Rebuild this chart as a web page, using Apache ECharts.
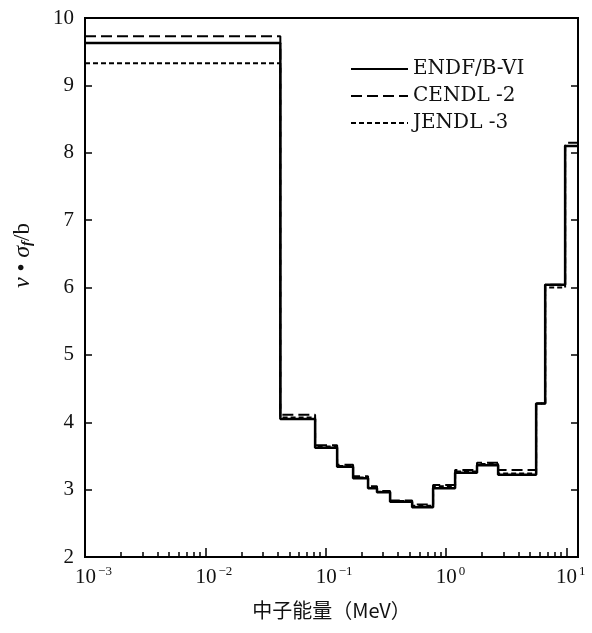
<!DOCTYPE html>
<html>
<head>
<meta charset="utf-8">
<script src="https://cdn.jsdelivr.net/npm/echarts@6/dist/echarts.min.js"></script>
<style>
  html, body { margin: 0; padding: 0; background: #fff; }
  #chart { width: 592px; height: 633px; }
</style>
</head>
<body>
<div id="chart"></div>
<script>
const seriesNames = ['ENDF/B-VI', 'CENDL -2', 'JENDL -3']
// 能群下边界 (MeV)，最后一个为上限
const groupEdges = [0.001, 0.042, 0.0817, 0.1245, 0.169, 0.225, 0.267, 0.343, 0.523, 0.781, 1.19, 1.81, 2.71, 5.61, 6.67, 9.77, 12.5]
const endfValues = [9.63, 4.05, 3.62, 3.34, 3.17, 3.02, 2.96, 2.82, 2.74, 3.02, 3.25, 3.36, 3.22, 4.28, 6.04, 8.1]
const cendlValues = [9.73, 4.11, 3.66, 3.37, 3.2, 3.05, 2.98, 2.84, 2.78, 3.07, 3.29, 3.4, 3.29, 4.28, 6.04, 8.15]
const jendlValues = [9.33, 4.07, 3.64, 3.35, 3.18, 3.03, 2.97, 2.83, 2.76, 3.05, 3.27, 3.38, 3.24, 4.28, 6.0, 8.1]
const minorTicks = [0.002, 0.003, 0.004, 0.005, 0.006, 0.007, 0.008, 0.009,
  0.02, 0.03, 0.04, 0.05, 0.06, 0.07, 0.08, 0.09,
  0.2, 0.3, 0.4, 0.5, 0.6, 0.7, 0.8, 0.9,
  2, 3, 4, 5, 6, 7, 8, 9]

const serif = 'Liberation Serif'

function stepData(values) {
  return groupEdges.map((e, i) => [e, values[Math.min(i, values.length - 1)]])
}

const chart = echarts.init(document.getElementById('chart'))

const option = {
  animation: false,
  backgroundColor: '#fff',
  grid: {
    left: 85, right: 14, top: 18, bottom: 76,
    show: true, borderColor: '#000', borderWidth: 2, backgroundColor: 'transparent'
  },
  legend: {
    orient: 'vertical',
    left: 345, top: 54,
    itemWidth: 57, itemHeight: 18, itemGap: 7,
    data: seriesNames,
    itemStyle: { opacity: 0 },
    textStyle: { fontFamily: 'DejaVu Serif', fontSize: 20, color: '#111' }
  },
  xAxis: [
    {
      type: 'log', logBase: 10, min: 0.001, max: 12.5,
      name: '中子能量（MeV）', nameLocation: 'middle', nameGap: 43,
      nameTextStyle: { fontFamily: 'Noto Sans CJK SC', fontSize: 20, color: '#111' },
      axisLine: { onZero: false, lineStyle: { color: '#000', width: 2 } },
      axisTick: { inside: true, length: 9, lineStyle: { color: '#000', width: 1.5 } },
      splitLine: { show: false },
      axisLabel: {
        margin: 8, color: '#111',
        formatter: function (v) {
          const n = Math.round(Math.log10(v))
          if (Math.abs(Math.log10(v) - n) > 1e-6) return ''
          const sup = n < 0 ? '−' + (-n) : '' + n
          return (n < 0 ? '{pw|}' : '{pn|}') + '{b|10}{s|' + sup + '}'
        },
        rich: {
          b: { fontFamily: serif, fontSize: 21, color: '#111', lineHeight: 24 },
          s: { fontFamily: serif, fontSize: 13, color: '#111', verticalAlign: 'top', padding: [0, 0, 10, 2] },
          pw: { width: 17 },
          pn: { width: 9 }
        }
      }
    },
    {
      type: 'log', logBase: 10, min: 0.001, max: 12.5, position: 'bottom',
      axisLine: { show: false, onZero: false },
      axisLabel: { show: false },
      splitLine: { show: false },
      axisTick: { inside: true, length: 5, customValues: minorTicks, lineStyle: { color: '#000', width: 1.5 } }
    }
  ],
  yAxis: [
    {
      type: 'value', min: 2, max: 10, interval: 1,
      name: '{i|ν} • {i|σ}{f|f}/b', nameLocation: 'middle', nameGap: 50, nameRotate: 90,
      nameTextStyle: {
        padding: [0, 0, 0, 64],
        rich: {
          i: { fontFamily: serif, fontStyle: 'italic', fontSize: 24, color: '#111' },
          f: { fontFamily: serif, fontStyle: 'italic', fontWeight: 'bold', fontSize: 15, color: '#111', verticalAlign: 'bottom', padding: [10, 0, 0, 0] }
        },
        fontFamily: serif, fontSize: 23, color: '#111'
      },
      axisLine: { lineStyle: { color: '#000', width: 2 } },
      axisTick: { inside: true, length: 7, lineStyle: { color: '#000', width: 1.5 } },
      splitLine: { show: false },
      axisLabel: { margin: 11, fontFamily: serif, fontSize: 21, color: '#111' }
    },
    {
      type: 'value', min: 2, max: 10, interval: 1, position: 'right',
      axisLine: { lineStyle: { color: '#000', width: 2 } },
      axisTick: { inside: true, length: 7, lineStyle: { color: '#000', width: 1.5 } },
      axisLabel: { show: false },
      splitLine: { show: false }
    }
  ],
  series: [
    {
      name: seriesNames[0], type: 'line', step: 'end', symbol: 'none',
      data: stepData(endfValues), color: '#000',
      lineStyle: { color: '#000', width: 2.5 }, z: 3
    },
    {
      name: seriesNames[1], type: 'line', step: 'end', symbol: 'none',
      data: stepData(cendlValues), color: '#000',
      lineStyle: { color: '#000', width: 2, type: [11, 5] }, z: 2
    },
    {
      name: seriesNames[2], type: 'line', step: 'end', symbol: 'none',
      data: stepData(jendlValues), color: '#000',
      lineStyle: { color: '#000', width: 2, type: [5, 3] }, z: 2
    }
  ]
}

chart.setOption(option)
window.addEventListener('resize', () => chart.resize())
</script>
</body>
</html>
